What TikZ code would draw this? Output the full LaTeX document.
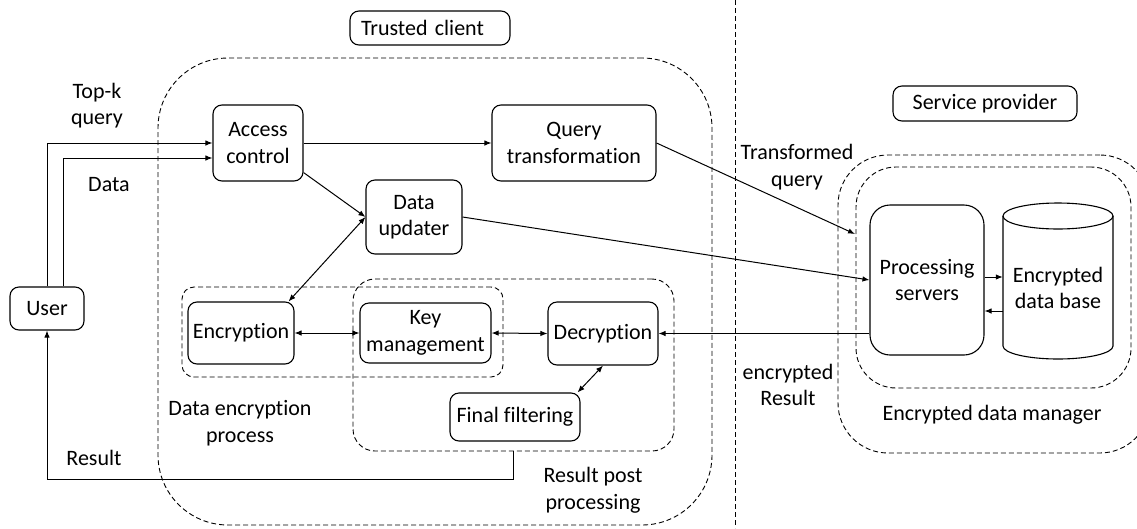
\documentclass[tikz,border=0pt]{standalone}
\usepackage{fontspec}
\setmainfont{Carlito}[Ligatures=NoCommon]
\usetikzlibrary{arrows.meta}
\begin{document}
\begin{tikzpicture}[x=1pt,y=-1pt,
  every node/.style={font=\fontsize{22}{26.5}\selectfont, align=center, inner sep=0pt},
  box/.style={draw, line width=1.1pt, rounded corners=9pt},
  region/.style={draw, line width=0.9pt, dash pattern=on 5pt off 3pt},
  arr/.style={line width=1pt, -{Latex[length=7pt,width=5.5pt]}},
  darr/.style={line width=1pt, {Latex[length=7pt,width=5.5pt]}-{Latex[length=7pt,width=5.5pt]}}]
\useasboundingbox (0,0) rectangle (1137,528);
\clip (0,0) rectangle (1137,528);

% regions
\node[region, rounded corners=70pt, minimum width=554pt, minimum height=467pt] (tc) at (435,291.5) {};
\node[region, rounded corners=50pt, minimum width=312pt, minimum height=298pt] (outer) at (994,304) {};
\node[region, rounded corners=40pt, minimum width=275pt, minimum height=221pt] (inner) at (993.5,277.5) {};
\node[region, rounded corners=12pt, minimum width=321pt, minimum height=90pt] (dep) at (342.5,332) {};
\node[region, rounded corners=22pt, minimum width=321pt, minimum height=172pt] (rpp) at (513.5,365) {};
\draw[region] (735,0) -- (735,528);

% header boxes
\node[box, minimum width=160pt, minimum height=34pt, text width=138pt, align=left] (tcb) at (430,28) {Trusted client};
\node[box, minimum width=184pt, minimum height=35pt] (sp) at (985,103.5) {Service provider};

% nodes
\node[box, minimum width=74pt, minimum height=43pt] (user) at (47,308.5) {User};
\node[box, minimum width=90pt, minimum height=76pt] (ac) at (258,143) {Access\\control};
\node[box, minimum width=164pt, minimum height=76pt] (qt) at (574,143) {Query\\transformation};
\node[box, minimum width=96pt, minimum height=74pt] (du) at (414,217) {Data\\updater};
\node[box, minimum width=106pt, minimum height=62pt] (enc) at (241,333) {Encryption};
\node[box, minimum width=131pt, minimum height=60pt] (key) at (425.5,333) {Key\\management};
\node[box, minimum width=110pt, minimum height=63pt] (dec) at (603,333.5) {Decryption};
\node[box, minimum width=130pt, minimum height=48pt] (ff) at (515,417) {Final filtering};
\node[box, rounded corners=20pt, minimum width=114pt, minimum height=150pt] (ps) at (927,280) {Processing\\servers};

% database cylinder
\draw[line width=1.1pt] (1058,216) ellipse [x radius=55pt, y radius=13pt];
\draw[line width=1.1pt] (1003,216) -- (1003,346) arc[start angle=180, end angle=360, x radius=55pt, y radius=13pt] -- (1113,216);
\node[minimum width=110pt, minimum height=130pt] (db) at (1058,288) {Encrypted\\data base};

% labels
\node (ltk) at (97,105.5) {Top-k\\query};
\node (ldata) at (109,185) {Data};
\node (lres) at (94,458) {Result};
\node (ldep) at (240,423) {Data encryption\\process};
\node (lrpp) at (593,490) {Result post\\processing};
\node (ltq) at (797,167) {Transformed\\query};
\node (ler) at (788,385) {encrypted\\Result};
\node (ledm) at (992,415) {Encrypted data manager};

% connectors
\coordinate (tq) at (855,234);
\draw[arr] (user.north) |- (ac.west);
\draw[arr] ([xshift=16pt]user.north) |- ([yshift=-15pt]ac.west);
\draw[arr] (ac.east) -- (qt.west);
\draw[arr] ([yshift=9pt]ac.south east) -- (du.west);
\draw[darr] (du.west) -- ([xshift=-6pt]enc.north east);
\draw[darr] (enc.east) -- (key.west);
\draw[darr] (key.east) -- (dec.west);
\draw[darr] (dec.south) -- ([xshift=-3pt]ff.north east);
\draw[arr] (qt.east) -- (tq);
\draw[arr] (du.east) -- (ps.west);
\draw[arr] (ps.west |- dec.east) -- (dec.east);
\coordinate (p1) at ([yshift=3pt]ps.east);
\coordinate (p2) at ([yshift=-31pt]ps.east);
\draw[arr] (p1) -- (p1 -| db.west);
\draw[arr] (p2 -| db.west) -- (p2);
\draw[arr] (rpp.south) -- ++(0,28) -| (user.south);
\end{tikzpicture}
\end{document}
